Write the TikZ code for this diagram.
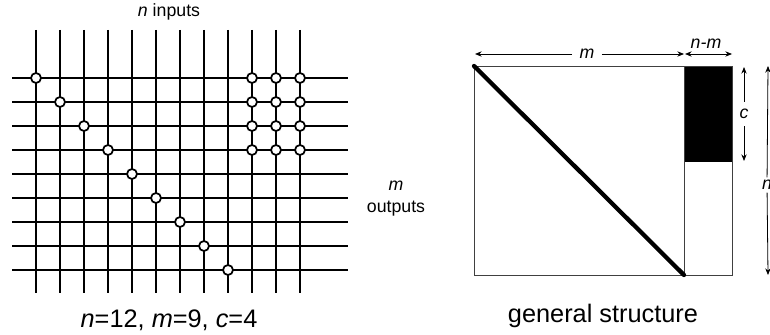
\documentclass[tikz,border=0pt]{standalone}
\usepackage{fontspec}
\setmainfont{Liberation Sans}
\usetikzlibrary{arrows.meta}

\begin{document}
\begin{tikzpicture}[
    x=0.75pt, y=-0.75pt,
    wire/.style={draw=black, line width=1.5pt},
    cross/.style={circle, draw=black, fill=white, line width=1.3pt,
                  minimum size=7.5pt, inner sep=0pt},
    region/.style={draw=black!75, line width=0.7pt},
    dim/.style={draw=black, line width=0.6pt, {Stealth[length=5pt,width=4pt]}-{Stealth[length=5pt,width=4pt]}},
    halfdim/.style={draw=black, line width=0.6pt, -{Stealth[length=5pt,width=4pt]}},
    small/.style={font=\fontsize{13.3}{16.5}\selectfont, align=center, inner sep=1.5pt},
    gaplabel/.style={small, inner sep=5.5pt},
    caption/.style={font=\fontsize{19}{23}\selectfont, inner sep=0pt},
]
\useasboundingbox (0,0) rectangle (770,335);

% Rejilla de cables
\foreach \i in {1,...,12} {
    \coordinate (in\i) at (12+24*\i,30);
    \coordinate (bot\i) at (12+24*\i,293);
    \draw[wire] (in\i) -- (bot\i);
}
\foreach \j in {1,...,9} {
    \coordinate (left\j) at (12,54+24*\j);
    \coordinate (right\j) at (348,54+24*\j);
    \draw[wire] (left\j) -- (right\j);
}

% Diagonal
\foreach \j in {1,...,9} {
    \node[cross] (diag\j) at (12+24*\j,54+24*\j) {};
}

% Bloque concentrado
\foreach \i in {10,11,12} {
    \foreach \j in {1,...,4} {
        \node[cross] (conc\i-\j) at (12+24*\i,54+24*\j) {};
    }
}

% Rotulos de la rejilla
\node[small] (inputs) at (169,12) {\textit{n} inputs};
\node[small] (outputs) at (396,199) {\textit{m}\\outputs};
\node[caption] (gridcap) at (169,320) {\textit{n}=12, \textit{m}=9, \textit{c}=4};

% Estructura general
\coordinate (tl) at (474,66);
\coordinate (tm) at (684,66);
\coordinate (tr) at (732,66);
\coordinate (bl) at (474,275);
\coordinate (bm) at (684,275);
\coordinate (br) at (732,275);
\coordinate (cm) at (684,162);
\coordinate (cr) at (732,162);
\fill[black] (tm) rectangle (cr);
\draw[region] (tl) rectangle (bm);
\draw[region] (tm) rectangle (br);
\draw[line width=3.2pt, line cap=round] (tl) -- (bm);

% Cotas
\node[gaplabel] (mlab) at (587,54) {\textit{m}};
\coordinate (mleft) at (475,54);
\coordinate (mright) at (684,54);
\draw[halfdim] (mlab) -- (mleft);
\draw[halfdim] (mlab) -- (mright);

\node[small] (nmlab) at (706,44) {\textit{n-m}};
\coordinate (nmleft) at (685,54);
\coordinate (nmright) at (732,54);
\draw[dim] (nmleft) -- (nmright);

\node[gaplabel] (clab) at (744,114) {\textit{c}};
\coordinate (ctop) at (744,67);
\coordinate (cbot) at (744,161);
\draw[halfdim] (clab) -- (ctop);
\draw[halfdim] (clab) -- (cbot);

\node[gaplabel, inner sep=2pt] (nlab) at (767,185) {\textit{n}};
\coordinate (ntop) at (768,66);
\coordinate (nbot) at (768,275);
\draw[halfdim] (nlab) -- (ntop);
\draw[halfdim] (nlab) -- (nbot);

\node[caption] (gencap) at (603,316) {general structure};

\end{tikzpicture}
\end{document}
